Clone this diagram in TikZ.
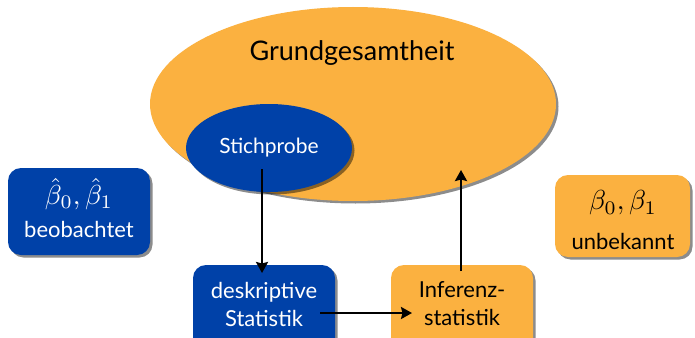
\RequirePackage{fix-cm}
\documentclass[tikz,border=0pt]{standalone}
\usepackage{fontspec}
\setmainfont{Lato}
\usetikzlibrary{shapes.geometric,shadows,arrows.meta}
\definecolor{myblue}{RGB}{0,65,168}
\definecolor{myorange}{RGB}{251,177,64}
\tikzset{
  shad/.style={drop shadow={shadow xshift=2.5pt,shadow yshift=-2.5pt,opacity=0.45,fill=black}},
  bluebox/.style={shad,fill=myblue,text=white,rounded corners=13pt,inner sep=0pt,align=center},
  orangebox/.style={shad,fill=myorange,text=black,rounded corners=13pt,inner sep=0pt,align=center},
  conn/.style={line width=2.8pt,-{Stealth[length=11pt,width=12pt,inset=1.5pt]}},
  mathlabel/.style={inner sep=0pt,font=\fontsize{10}{12}\selectfont,scale=2.75}
}
\begin{document}
\begin{tikzpicture}[x=1pt,y=-1pt]
\useasboundingbox[fill=white] (0,0) rectangle (695,337);
\node[ellipse,shad,fill=myorange,minimum width=406pt,minimum height=194pt,inner sep=0pt] (grund) at (353,104) {};
\node[font=\fontsize{27}{32}\selectfont] (grundtext) at (352,53) {Grundgesamtheit};
\node[ellipse,shad,fill=myblue,text=white,minimum width=166pt,minimum height=88pt,inner sep=0pt,font=\fontsize{21}{25}\selectfont] (stich) at (269,148) {Stichprobe};
\node[bluebox,minimum width=142pt,minimum height=87pt] (beob) at (79,211.5) {};
\node[mathlabel,text=white] (beobmath) at (79,194) {$\hat\beta_0,\hat\beta_1$};
\node[text=white,inner sep=0pt,font=\fontsize{22}{26}\selectfont] (beobtext) at (79,229) {beobachtet};
\node[orangebox,minimum width=135pt,minimum height=82pt] (unb) at (622.5,216) {};
\node[mathlabel] (unbmath) at (623,203) {$\beta_0,\beta_1$};
\node[inner sep=0pt,font=\fontsize{22}{26}\selectfont] (unbtext) at (623,241) {unbekannt};
\node[bluebox,minimum width=142pt,minimum height=90pt] (desk) at (264,310) {};
\node[text=white,font=\fontsize{22}{28}\selectfont,align=center] (desktext) at (264,304) {deskriptive\\Statistik};
\node[orangebox,minimum width=142pt,minimum height=90pt] (inf) at (462,310) {};
\node[font=\fontsize{22}{28}\selectfont,align=center] (inftext) at (462,304) {Inferenz-\\statistik};
\coordinate (s1) at (262,169);
\coordinate (s2) at (262,273);
\coordinate (d1) at (320,313);
\coordinate (d2) at (412,313);
\coordinate (i1) at (461,271);
\coordinate (i2) at (461,170);
\draw[conn] (s1) -- (s2);
\draw[conn] (d1) -- (d2);
\draw[conn] (i1) -- (i2);
\end{tikzpicture}
\end{document}
